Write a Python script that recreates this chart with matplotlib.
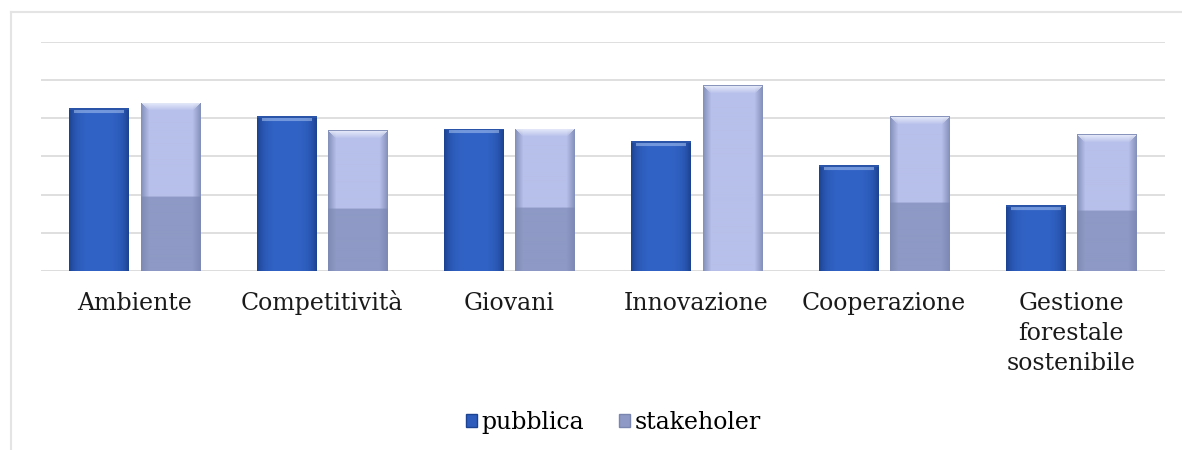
import matplotlib.pyplot as plt
from matplotlib.patches import Patch
import numpy as np

# Valori (unita' di griglia, senza etichette sull'asse y)
categorie = ["Ambiente", "Competitività", "Giovani", "Innovazione",
             "Cooperazione", "Gestione\nforestale\nsostenibile"]
pubblica = [4.26, 4.05, 3.73, 3.39, 2.77, 1.72]
stakeholer = [4.41, 3.68, 3.73, 4.86, 4.05, 3.58]
# la parte bassa piu' scura delle barre "stakeholer" (manca in Innovazione)
parte_scura = [True, True, True, False, True, True]

plt.rcParams['font.family'] = ['DejaVu Serif']

fig = plt.figure(figsize=(11.82, 4.5), dpi=100)
ax = fig.add_axes([0.0345, 0.398, 0.951, 0.509])
ax.set_xlim(-0.5, len(categorie) - 0.5)
ax.set_ylim(0, 6)

# cornice leggera del grafico
fig.add_artist(plt.Line2D([0.0095, 0.0095], [0, 0.973], color="#e4e4e4",
                          lw=1.5, transform=fig.transFigure))
fig.add_artist(plt.Line2D([0.0095, 1], [0.973, 0.973], color="#e4e4e4",
                          lw=1.5, transform=fig.transFigure))

for y in range(1, 7):
    ax.axhline(y, color="#dcdcdc", lw=1.3, zorder=0)
ax.axhline(0, color="#d2d2d2", lw=1.8, zorder=0)

x = np.arange(len(categorie))
w = 0.315
off = 0.19


def hexrgb(h):
    h = h.lstrip("#")
    return np.array([int(h[i:i + 2], 16) / 255.0 for i in (0, 2, 4)])


def pixel_h(h):
    return ax.transData.transform((0, h))[1] - ax.transData.transform((0, 0))[1]


def riempi_pubblica(bar):
    x0, bw, h = bar.get_x(), bar.get_width(), bar.get_height()
    nrows = max(int(pixel_h(h)), 2)
    ncols = 60
    u = np.linspace(0, 1, ncols)
    centro = hexrgb("#3163c6")
    bordo = hexrgb("#1c4391")
    t = np.clip(np.abs(u - 0.5) * 2, 0, 1) ** 4
    riga = centro[None, :] * (1 - t[:, None]) + bordo[None, :] * t[:, None]
    img = np.repeat(riga[None, :, :], nrows, axis=0)
    # riflesso chiaro in alto
    luce = hexrgb("#a9c3ef")
    for r in range(2, min(5, nrows)):
        img[r, 5:ncols - 5] = luce * 0.55 + img[r, 5:ncols - 5] * 0.45
    img[0:2] = hexrgb("#2a55a8")
    im = ax.imshow(img, extent=(x0, x0 + bw, 0, h), aspect="auto",
                   origin="upper", zorder=2, interpolation="bilinear")
    im.set_clip_path(bar)


def riempi_stake(bar, scura):
    x0, bw, h = bar.get_x(), bar.get_width(), bar.get_height()
    nrows = max(int(pixel_h(h)), 2)
    ncols = 60
    chiaro = hexrgb("#b7c0ea")
    basso = hexrgb("#8e99c5")
    bordo = hexrgb("#7a86b0")
    img = np.zeros((nrows, ncols, 3))
    split = int(nrows * 0.56) if scura else nrows
    img[:split] = chiaro
    img[split:] = basso
    e = 8
    for c in range(e):
        k = 1 - c / e
        img[:, c] = img[:, c] * (1 - k * 0.8) + bordo * k * 0.8
        img[:, ncols - 1 - c] = img[:, ncols - 1 - c] * (1 - k * 0.8) + bordo * k * 0.8
    # smussatura chiara in alto
    top = min(8, nrows)
    for r in range(top):
        c0 = int(e * r / top)
        img[r, c0:ncols - c0] = hexrgb("#e8ecfa") * (1 - r / top) + img[r, c0:ncols - c0] * (r / top)
    img[0] = hexrgb("#8a94bc")
    im = ax.imshow(img, extent=(x0, x0 + bw, 0, h), aspect="auto",
                   origin="upper", zorder=2, interpolation="bilinear")
    im.set_clip_path(bar)


bars_p = ax.bar(x - off, pubblica, w, color="#2d5cbd", zorder=1, lw=0)
bars_s = ax.bar(x + off, stakeholer, w, color="#9aa5d0", zorder=1, lw=0)
for b in bars_p:
    riempi_pubblica(b)
for b, s in zip(bars_s, parte_scura):
    riempi_stake(b, s)

ax.set_xlim(-0.5, len(categorie) - 0.5)
ax.set_ylim(0, 6)
ax.set_xticks([])
ax.set_yticks([])
for s in ax.spines.values():
    s.set_visible(False)

# etichette delle categorie, una riga alla volta sulla linea di base
for xi, nome in zip(x, categorie):
    for k, riga in enumerate(nome.split("\n")):
        ax.text(xi, -0.172 - 0.131 * k, riga, transform=ax.get_xaxis_transform(),
                ha="center", va="baseline", fontsize=17, color="#1a1a1a")

handles = [Patch(facecolor="#2d5cbd", edgecolor="#1c4391"),
           Patch(facecolor="#8e99c5", edgecolor="#7a86b0")]
fig.legend(handles, ["pubblica", "stakeholer"], loc="center",
           bbox_to_anchor=(0.519, 0.062), ncol=2, frameon=False,
           fontsize=17, handlelength=0.45, handleheight=0.45,
           handletextpad=0.2, columnspacing=1.5)

fig.savefig("out.png", dpi=100)
